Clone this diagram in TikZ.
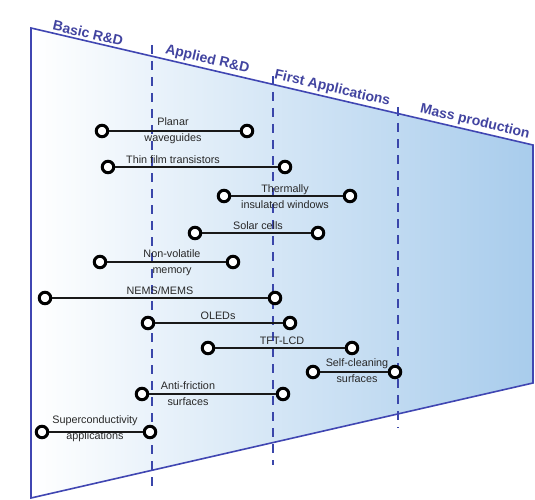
\documentclass[tikz,border=0pt]{standalone}
\usepackage{fontspec}
\setmainfont{Liberation Sans}
\definecolor{frameblue}{RGB}{64,70,178}
\definecolor{phaseblue}{RGB}{66,68,160}
\definecolor{dashblue}{RGB}{58,70,170}
\definecolor{fillblue}{RGB}{168,204,236}
\definecolor{midblue}{RGB}{220,234,247}
\definecolor{lbltext}{RGB}{40,40,40}
\begin{document}
\begin{tikzpicture}[x=1pt,y=-1pt,
  frame/.style={draw=frameblue, line width=1.6pt, line join=miter},
  phase/.style={text=phaseblue, font=\bfseries\fontsize{14}{16}\selectfont, sloped, above, inner sep=2.5pt},
  divider/.style={draw=dashblue, line width=1.7pt, dash pattern=on 9pt off 7pt},
  dot/.style={circle, draw=black, fill=white, line width=3pt, minimum size=11.5pt, inner sep=0pt},
  bar/.style={draw=black!90, line width=2.2pt},
  lbl/.style={text=lbltext, font=\fontsize{10.8}{16}\selectfont, align=center, inner sep=0pt}]
\useasboundingbox (0,0) rectangle (535,500);
% trapezoid
\coordinate (TL) at (31,28);
\coordinate (TR) at (533,145);
\coordinate (BR) at (533,383);
\coordinate (BL) at (31,498);
\shade[left color=white, middle color=midblue, right color=fillblue] (TL) -- (TR) -- (BR) -- (BL) -- cycle;
% phase dividers
\coordinate (D1a) at (152,45);  \coordinate (D1b) at (152,492);
\coordinate (D2a) at (273,76);  \coordinate (D2b) at (273,465);
\coordinate (D3a) at (398,107); \coordinate (D3b) at (398,428);
\draw[divider] (D1a) -- (D1b);
\draw[divider] (D2a) -- (D2b);
\draw[divider] (D3a) -- (D3b);
\draw[frame] (TL) -- (TR) -- (BR) -- (BL) -- cycle;
% phase labels
\path (TL) -- (TR)
  node[phase, pos=0.110] (ph1) {Basic R\&D}
  node[phase, pos=0.347] (ph2) {Applied R\&D}
  node[phase, pos=0.596] (ph3) {First Applications}
  node[phase, pos=0.880] (ph4) {Mass production};
% labels
\node[lbl] (l1)  at (173,131) {Planar\\waveguides};
\node[lbl] (l2)  at (173,160) {Thin film transistors};
\node[lbl] (l3)  at (285,197) {Thermally\\insulated windows};
\node[lbl] (l4)  at (258,226) {Solar cells};
\node[lbl] (l5)  at (172,263) {Non-volatile\\memory};
\node[lbl] (l6)  at (160,291) {NEMS/MEMS};
\node[lbl] (l7)  at (218,316) {OLEDs};
\node[lbl] (l8)  at (282,341) {TFT-LCD};
\node[lbl] (l9)  at (357,371) {Self-cleaning\\surfaces};
\node[lbl] (l10) at (188,394) {Anti-friction\\surfaces};
\node[lbl] (l11) at (95,429) {Superconductivity\\applications};
% bars
\node[dot] (a1) at (102,131) {};  \node[dot] (b1) at (247,131) {};
\node[dot] (a2) at (108,167) {};  \node[dot] (b2) at (285,167) {};
\node[dot] (a3) at (224,196) {};  \node[dot] (b3) at (350,196) {};
\node[dot] (a4) at (195,233) {};  \node[dot] (b4) at (318,233) {};
\node[dot] (a5) at (100,262) {};  \node[dot] (b5) at (233,262) {};
\node[dot] (a6) at (45,298) {};   \node[dot] (b6) at (275,298) {};
\node[dot] (a7) at (148,323) {};  \node[dot] (b7) at (290,323) {};
\node[dot] (a8) at (208,348) {};  \node[dot] (b8) at (352,348) {};
\node[dot] (a9) at (313,372) {};  \node[dot] (b9) at (395,372) {};
\node[dot] (a10) at (142,394) {}; \node[dot] (b10) at (283,394) {};
\node[dot] (a11) at (42,432) {};  \node[dot] (b11) at (150,432) {};
\foreach \i in {1,...,11} {\draw[bar] (a\i) -- (b\i);}
\end{tikzpicture}
\end{document}
